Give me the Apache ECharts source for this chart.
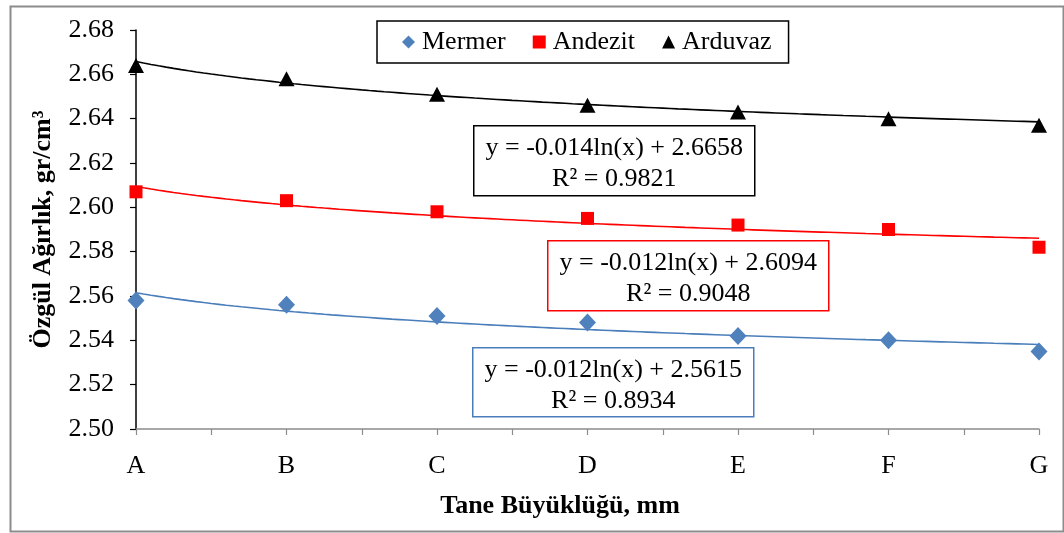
<!DOCTYPE html>
<html>
<head>
<meta charset="utf-8">
<script src="https://cdn.jsdelivr.net/npm/echarts@6/dist/echarts.min.js"></script>
<style>
  html, body { margin: 0; padding: 0; background: #fff; }
  #chart { width: 1064px; height: 533px; }
</style>
</head>
<body>
<div id="chart"></div>
<script>
// Grain size classes on the x axis
const categories = ['A', 'B', 'C', 'D', 'E', 'F', 'G'];

// Specific gravity (gr/cm³) per rock type
const mermer  = [2.558, 2.556, 2.551, 2.548, 2.542, 2.540, 2.535];
const andezit = [2.607, 2.603, 2.598, 2.595, 2.592, 2.590, 2.582];
const arduvaz = [2.664, 2.658, 2.651, 2.646, 2.643, 2.640, 2.637];

// Logarithmic trend lines y = a·ln(x) + b, in order Mermer, Andezit, Arduvaz
const seriesNames   = ['Mermer', 'Andezit', 'Arduvaz'];
const trendSlope     = [-0.012, -0.012, -0.014];
const trendIntercept = [2.5615, 2.6094, 2.6658];
const trendR2        = ['0.8934', '0.9048', '0.9821'];

// Y axis tick range
const yMin = 2.50, yMax = 2.68, yStep = 0.02;

const FONT = '"Liberation Serif", "Times New Roman", serif';
const FS = 26;
const colors = ['#4f81bd', '#ff0000', '#000000'];
const trendColors = ['#4a7ebb', '#ff0000', '#000000'];
const symbols = ['diamond', 'rect', 'triangle'];
const symbolSizes = [[17, 18], [13, 13], [16, 15]];
const values = [mermer, andezit, arduvaz];

function trendPoints(i) {
  const pts = [];
  for (let x = 1; x <= categories.length + 1e-9; x += 0.05) {
    pts.push([x, trendSlope[i] * Math.log(x) + trendIntercept[i]]);
  }
  return pts;
}

const series = [];
for (let i = 0; i < 3; i++) {
  series.push({
    name: seriesNames[i] + ' trend',
    type: 'line',
    data: trendPoints(i),
    showSymbol: false,
    silent: true,
    lineStyle: { color: trendColors[i], width: 1.6 },
    z: 2
  });
}
for (let i = 0; i < 3; i++) {
  series.push({
    name: seriesNames[i],
    type: 'scatter',
    data: values[i].map((v, k) => [k + 1, v]),
    symbol: symbols[i],
    symbolSize: symbolSizes[i],
    itemStyle: { color: colors[i], opacity: 1 },
    z: 3
  });
}

// Equation boxes: [left, top, width, height, border colour, series index]
const boxes = [
  [473, 125, 281, 70, '#000000', 2],
  [547, 240, 281, 70, '#ff0000', 1],
  [472, 347, 281, 69, '#4a7ebb', 0]
];
const graphics = [
  { type: 'rect', left: 8, top: 4, shape: { width: 1053, height: 525 },
    style: { fill: 'none', stroke: '#8c8c8c', lineWidth: 2 }, silent: true },
  { type: 'text', x: 560, y: 506,
    style: { text: 'Tane Büyüklüğü, mm', font: 'bold ' + FS + 'px ' + FONT, fill: '#000',
             textAlign: 'center', textVerticalAlign: 'middle' } }
];
boxes.forEach(b => {
  const i = b[5];
  const a = Math.abs(trendSlope[i]).toFixed(3);
  graphics.push({
    type: 'group', left: b[0], top: b[1], z: 10,
    children: [
      { type: 'rect', shape: { x: 0, y: 0, width: b[2], height: b[3] },
        style: { fill: '#fff', stroke: b[4], lineWidth: 1.5 } },
      { type: 'text', x: b[2] / 2, y: 22,
        style: { text: 'y = -' + a + 'ln(x) + ' + trendIntercept[i].toFixed(4),
                 font: FS + 'px ' + FONT, fill: '#000', textAlign: 'center', textVerticalAlign: 'middle' } },
      { type: 'text', x: b[2] / 2, y: 53,
        style: { text: 'R² = ' + trendR2[i],
                 font: FS + 'px ' + FONT, fill: '#000', textAlign: 'center', textVerticalAlign: 'middle' } }
    ]
  });
});

const chart = echarts.init(document.getElementById('chart'), null, { renderer: 'canvas' });
chart.setOption({
  animation: false,
  backgroundColor: '#fff',
  textStyle: { fontFamily: FONT },
  grid: { left: 136, right: 25, top: 30, bottom: 104 },
  legend: {
    data: seriesNames.map((n, i) => ({ name: n, icon: symbols[i] })),
    left: 377, top: 21,
    padding: [8, 17, 8, 25],
    itemGap: 27,
    itemWidth: 13, itemHeight: 13,
    borderColor: '#000', borderWidth: 1.5,
    backgroundColor: '#fff',
    textStyle: { fontFamily: FONT, fontSize: FS, color: '#000', padding: [0, 0, 0, 2] }
  },
  xAxis: {
    type: 'value',
    min: 1, max: categories.length, interval: 0.5,
    axisLine: { show: true, lineStyle: { color: '#8c8c8c', width: 1.5 } },
    axisTick: { show: true, length: 6, lineStyle: { color: '#8c8c8c', width: 1.2 } },
    splitLine: { show: false },
    axisLabel: {
      margin: 24,
      fontFamily: FONT, fontSize: FS, color: '#000',
      formatter: v => Number.isInteger(v) ? categories[v - 1] : ''
    }
  },
  yAxis: {
    type: 'value',
    min: yMin, max: yMax, interval: yStep,
    name: 'Özgül Ağırlık, gr/cm³',
    nameLocation: 'middle', nameGap: 80, nameRotate: 90,
    nameTextStyle: { fontFamily: FONT, fontSize: FS, fontWeight: 'bold', color: '#000' },
    axisLine: { show: true, lineStyle: { color: '#000', width: 1.5 } },
    axisTick: { show: true, length: 6, lineStyle: { color: '#000', width: 1.2 } },
    splitLine: { show: false },
    axisLabel: {
      margin: 22,
      fontFamily: FONT, fontSize: FS, color: '#000',
      formatter: v => v.toFixed(2)
    }
  },
  series: series,
  graphic: graphics
});
</script>
</body>
</html>
